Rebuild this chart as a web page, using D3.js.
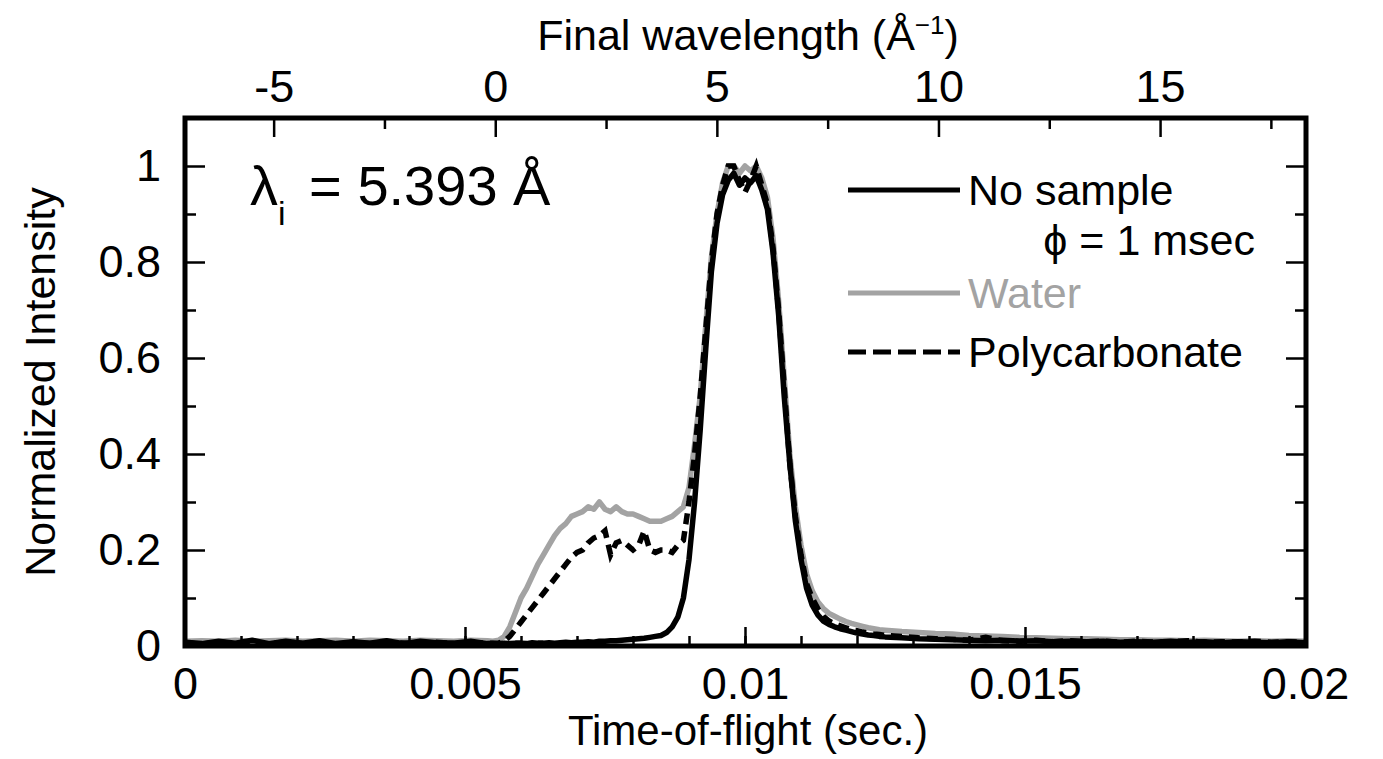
<!DOCTYPE html>
<html>
<head>
<meta charset="utf-8">
<script src="https://cdn.jsdelivr.net/npm/d3@7"></script>
<style>
  body { margin: 0; background: #fff; }
  text { font-family: "Liberation Sans", Arial, Helvetica, sans-serif; }
</style>
</head>
<body>
<div id="chart"></div>
<script>
// time-of-flight sample points (sec.)
var tof = [
  0, 0.0003, 0.0006, 0.0009, 0.0012, 0.0015, 0.0018, 0.0021, 0.0024, 0.0027,
  0.003, 0.0033, 0.0036, 0.0039, 0.0042, 0.0045, 0.0048, 0.0051, 0.0054,
  0.0055, 0.0056, 0.0057, 0.0058, 0.0059, 0.0060, 0.0061, 0.0062, 0.0063, 0.0064,
  0.0065, 0.0066, 0.0067, 0.0068, 0.0069, 0.0070, 0.0071, 0.0072, 0.0073, 0.0074,
  0.0075, 0.0076, 0.0077, 0.0078, 0.0079, 0.0080, 0.0081, 0.0082, 0.0083, 0.0084,
  0.0085, 0.0086, 0.0087, 0.0088, 0.0089, 0.0090, 0.0091, 0.0092, 0.0093, 0.0094,
  0.0095, 0.0096, 0.0097, 0.0098, 0.0099, 0.0100, 0.0101, 0.0102, 0.0103, 0.0104,
  0.0105, 0.0106, 0.0107, 0.0108, 0.0109, 0.0110, 0.0111, 0.0112, 0.0113, 0.0114,
  0.0115, 0.0116, 0.0117, 0.0118, 0.0119, 0.0120, 0.0121, 0.0122, 0.0123, 0.0124,
  0.0125,
  0.0128, 0.0131, 0.0134, 0.0137, 0.0140, 0.0143, 0.0146, 0.0149, 0.0152, 0.0155,
  0.0158, 0.0161, 0.0164, 0.0167, 0.0170, 0.0173, 0.0176, 0.0179, 0.0182, 0.0185,
  0.0188, 0.0191, 0.0194, 0.0197, 0.0200
];

var noSample = [
  0.008, 0.005, 0.010, 0.006, 0.012, 0.005, 0.010, 0.006, 0.011, 0.005,
  0.009, 0.006, 0.011, 0.005, 0.010, 0.007, 0.006, 0.010, 0.005,
  0.006, 0.005, 0.006, 0.005, 0.006, 0.006, 0.005, 0.007, 0.006, 0.006,
  0.007, 0.006, 0.007, 0.008, 0.007, 0.008, 0.008, 0.009, 0.008, 0.010,
  0.010, 0.011, 0.011, 0.012, 0.013, 0.014, 0.015, 0.016, 0.018, 0.020,
  0.022, 0.028, 0.040, 0.060, 0.100, 0.180, 0.300, 0.450, 0.620, 0.780,
  0.880, 0.940, 0.970, 0.985, 0.960, 0.975, 0.965, 0.980, 0.950, 0.910,
  0.820, 0.690, 0.520, 0.380, 0.260, 0.180, 0.120, 0.085, 0.065, 0.052,
  0.045, 0.040, 0.036, 0.033, 0.030, 0.027, 0.025, 0.023, 0.022, 0.020,
  0.019,
  0.017, 0.015, 0.014, 0.013, 0.012, 0.011, 0.012, 0.010, 0.011, 0.009,
  0.010, 0.009, 0.010, 0.008, 0.009, 0.008, 0.010, 0.008, 0.009, 0.007,
  0.009, 0.008, 0.007, 0.009, 0.007
];

var water = [
  0.010, 0.011, 0.010, 0.012, 0.010, 0.011, 0.012, 0.010, 0.011, 0.012,
  0.010, 0.012, 0.011, 0.010, 0.012, 0.011, 0.010, 0.012, 0.011,
  0.010, 0.012, 0.020, 0.040, 0.070, 0.100, 0.120, 0.145, 0.170, 0.190,
  0.210, 0.230, 0.245, 0.255, 0.270, 0.275, 0.280, 0.290, 0.285, 0.300,
  0.285, 0.280, 0.290, 0.280, 0.275, 0.275, 0.270, 0.265, 0.260, 0.260,
  0.260, 0.265, 0.270, 0.280, 0.290, 0.330, 0.420, 0.520, 0.670, 0.810,
  0.900, 0.965, 1.000, 1.000, 0.985, 1.000, 0.990, 1.000, 0.975, 0.935,
  0.850, 0.720, 0.560, 0.400, 0.290, 0.210, 0.150, 0.115, 0.092, 0.078,
  0.068, 0.062, 0.056, 0.051, 0.047, 0.044, 0.041, 0.038, 0.036, 0.034,
  0.033,
  0.030, 0.028, 0.026, 0.025, 0.022, 0.021, 0.020, 0.018, 0.017, 0.016,
  0.015, 0.015, 0.014, 0.013, 0.013, 0.012, 0.012, 0.011, 0.012, 0.011,
  0.010, 0.011, 0.010, 0.011, 0.010
];

var polycarbonate = [
  0.006, 0.004, 0.008, 0.005, 0.007, 0.004, 0.009, 0.005, 0.006, 0.004,
  0.008, 0.005, 0.007, 0.006, 0.004, 0.008, 0.005, 0.007, 0.006,
  0.005, 0.006, 0.010, 0.020, 0.035, 0.050, 0.065, 0.080, 0.095, 0.110,
  0.125, 0.140, 0.155, 0.170, 0.185, 0.195, 0.200, 0.215, 0.225, 0.230,
  0.240, 0.190, 0.215, 0.220, 0.210, 0.200, 0.210, 0.240, 0.200, 0.195,
  0.200, 0.200, 0.195, 0.210, 0.220, 0.300, 0.400, 0.520, 0.660, 0.800,
  0.900, 0.960, 1.000, 1.000, 0.970, 0.945, 0.970, 1.000, 0.960, 0.920,
  0.830, 0.700, 0.540, 0.380, 0.270, 0.190, 0.130, 0.100, 0.078, 0.062,
  0.052, 0.046, 0.042, 0.038, 0.034, 0.032, 0.029, 0.027, 0.025, 0.024,
  0.022,
  0.020, 0.017, 0.015, 0.014, 0.012, 0.018, 0.011, 0.010, 0.012, 0.009,
  0.011, 0.009, 0.010, 0.008, 0.010, 0.008, 0.009, 0.011, 0.008, 0.009,
  0.008, 0.010, 0.008, 0.009, 0.008
];

// tick values
var xMajor = [0, 0.005, 0.01, 0.015, 0.02];
var xMinor = [0, 0.001, 0.002, 0.003, 0.004, 0.005, 0.006, 0.007, 0.008, 0.009, 0.01,
              0.011, 0.012, 0.013, 0.014, 0.015, 0.016, 0.017, 0.018, 0.019, 0.02];
var yMajor = [0, 0.2, 0.4, 0.6, 0.8, 1];
var yMinor = [0.1, 0.3, 0.5, 0.7, 0.9];
var wlMajor = [-5, 0, 5, 10, 15];
var wlMinor = [-2.5, 2.5, 7.5, 12.5, 17.5];

(function() {
  var W = 1383, H = 759;
  var pLeft = 185, pRight = 1306, pTop = 118, pBottom = 646;

  var svg = d3.select("#chart").append("svg")
      .attr("width", W)
      .attr("height", H);

  var x = d3.scaleLinear().domain([0, 0.02]).range([pLeft, pRight - 1]);
  var y = d3.scaleLinear().domain([0, 1.1]).range([pBottom, pTop]);
  var xTop = d3.scaleLinear().domain([-7.0, 18.27]).range([pLeft, pRight - 1]);

  var fmtX = function(d) { return d === 0 ? "0" : String(+d.toFixed(3)); };
  var fmtY = function(d) { return String(+d.toFixed(1)); };
  var fmtWl = function(d) { return String(d); };

  // clip so lines stay inside the frame
  svg.append("clipPath").attr("id", "clip")
    .append("rect")
      .attr("x", pLeft).attr("y", pTop)
      .attr("width", pRight - pLeft).attr("height", pBottom - pTop);

  var plot = svg.append("g").attr("clip-path", "url(#clip)");

  function lineFor(vals) {
    return d3.line()
      .x(function(d, i) { return x(tof[i]); })
      .y(function(d) { return y(d); })(vals);
  }

  plot.append("path")
      .attr("d", lineFor(water))
      .attr("fill", "none")
      .attr("stroke", "#a3a3a3")
      .attr("stroke-width", 5.5)
      .attr("stroke-linejoin", "round");

  plot.append("path")
      .attr("d", lineFor(noSample))
      .attr("fill", "none")
      .attr("stroke", "#000")
      .attr("stroke-width", 5.5)
      .attr("stroke-linejoin", "round");

  plot.append("path")
      .attr("d", lineFor(polycarbonate))
      .attr("fill", "none")
      .attr("stroke", "#000")
      .attr("stroke-width", 5.5)
      .attr("stroke-dasharray", "11,7");

  // axes: ticks point inward
  function styleAxis(g) {
    g.select(".domain").remove();
    g.selectAll("line").attr("stroke", "#000").attr("stroke-width", 2.5);
    g.selectAll("text")
      .attr("fill", "#000")
      .style("font-size", "45px")
      .style("font-family", "'Liberation Sans', Arial, sans-serif");
  }

  svg.append("g")
      .attr("transform", "translate(0," + pBottom + ")")
      .call(d3.axisBottom(x).tickValues(xMinor).tickSize(-10).tickFormat(""))
      .call(styleAxis);
  svg.append("g")
      .attr("transform", "translate(0," + pBottom + ")")
      .call(d3.axisBottom(x).tickValues(xMajor).tickSize(-19).tickPadding(21).tickFormat(fmtX))
      .call(styleAxis);

  svg.append("g")
      .attr("transform", "translate(" + pLeft + ",0)")
      .call(d3.axisLeft(y).tickValues(yMinor).tickSize(-11).tickFormat(""))
      .call(styleAxis);
  svg.append("g")
      .attr("transform", "translate(" + pLeft + ",0)")
      .call(d3.axisLeft(y).tickValues(yMajor).tickSize(-20).tickPadding(24).tickFormat(fmtY))
      .call(styleAxis);

  svg.append("g")
      .attr("transform", "translate(" + pRight + ",0)")
      .call(d3.axisRight(y).tickValues(yMinor).tickSize(-11).tickFormat(""))
      .call(styleAxis);
  svg.append("g")
      .attr("transform", "translate(" + pRight + ",0)")
      .call(d3.axisRight(y).tickValues(yMajor).tickSize(-20).tickFormat(""))
      .call(styleAxis);

  svg.append("g")
      .attr("transform", "translate(0," + pTop + ")")
      .call(d3.axisTop(xTop).tickValues(wlMinor).tickSize(-11).tickFormat(""))
      .call(styleAxis);
  svg.append("g")
      .attr("transform", "translate(0," + pTop + ")")
      .call(d3.axisTop(xTop).tickValues(wlMajor).tickSize(-19).tickPadding(16).tickFormat(fmtWl))
      .call(styleAxis);

  // frame
  svg.append("rect")
      .attr("x", pLeft).attr("y", pTop)
      .attr("width", pRight - pLeft).attr("height", pBottom - pTop)
      .attr("fill", "none")
      .attr("stroke", "#000")
      .attr("stroke-width", 5);

  // axis titles
  svg.append("text")
      .attr("x", 748)
      .attr("y", 745)
      .attr("text-anchor", "middle")
      .style("font-size", "42px")
      .text("Time-of-flight (sec.)");

  var topTitle = svg.append("text")
      .attr("x", 748)
      .attr("y", 50)
      .attr("text-anchor", "middle")
      .style("font-size", "43px");
  topTitle.append("tspan").text("Final wavelength (Å");
  topTitle.append("tspan").attr("dy", -16).style("font-size", "26px").text("\u22121");
  topTitle.append("tspan").attr("dy", 16).text(")");

  svg.append("text")
      .attr("transform", "translate(55," + (pTop + pBottom) / 2 + ") rotate(-90)")
      .attr("text-anchor", "middle")
      .style("font-size", "43px")
      .text("Normalized Intensity");

  // annotation
  var lam = svg.append("text")
      .attr("x", 250)
      .attr("y", 205)
      .style("font-size", "56px");
  lam.append("tspan").text("λ");
  lam.append("tspan").attr("dy", 20).style("font-size", "34px").text("i");
  lam.append("tspan").attr("dy", -20).attr("dx", 8).text(" = 5.393 Å");

  // legend
  var legend = [
    {name: "No sample", color: "#000", dash: null, y: 190},
    {name: "Water", color: "#a3a3a3", dash: null, y: 293},
    {name: "Polycarbonate", color: "#000", dash: "18,7", y: 352}
  ];
  legend.forEach(function(d) {
    svg.append("line")
        .attr("x1", 848).attr("x2", 960)
        .attr("y1", d.y).attr("y2", d.y)
        .attr("stroke", d.color)
        .attr("stroke-width", 5)
        .attr("stroke-dasharray", d.dash);
    svg.append("text")
        .attr("x", 968).attr("y", d.y + 15)
        .style("font-size", "43px")
        .attr("fill", d.color)
        .text(d.name);
  });
  svg.append("text")
      .attr("x", 1255).attr("y", 255)
      .attr("text-anchor", "end")
      .style("font-size", "43px")
      .text("ϕ = 1 msec");
})();
</script>
</body>
</html>
